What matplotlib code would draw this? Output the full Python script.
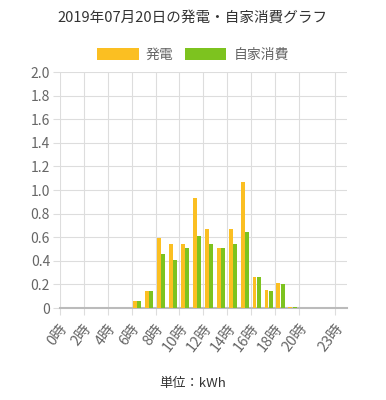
import matplotlib
matplotlib.use("Agg")
import matplotlib.pyplot as plt
from matplotlib.transforms import ScaledTranslation

plt.rcParams['font.family'] = ['Noto Sans CJK JP', 'DejaVu Sans']

hours = list(range(24))
hatsuden = [0, 0, 0, 0, 0, 0, 0.06, 0.14, 0.59, 0.54, 0.54, 0.93,
            0.67, 0.51, 0.67, 1.07, 0.26, 0.15, 0.21, 0.01, 0, 0, 0, 0]
jikashohi = [0, 0, 0, 0, 0, 0, 0.06, 0.14, 0.46, 0.41, 0.51, 0.61,
             0.54, 0.51, 0.54, 0.64, 0.26, 0.14, 0.20, 0.01, 0, 0, 0, 0]
tick_hours = [0, 2, 4, 6, 8, 10, 12, 14, 16, 18, 20, 23]
tick_labels = [f"{h}時" for h in tick_hours]
yticks = [0, 0.2, 0.4, 0.6, 0.8, 1.0, 1.2, 1.4, 1.6, 1.8, 2.0]

orange = '#FBBF22'
green = '#7DC31F'
grid = '#dddddd'

fig = plt.figure(figsize=(3.86, 4.0), dpi=100)
ax = fig.add_axes([0.155, 0.23, 0.744, 0.59])

w = 0.33
ax.bar([h + 0.27 for h in hours], hatsuden, width=w, color=orange, label='発電', zorder=3)
ax.bar([h + 0.65 for h in hours], jikashohi, width=w, color=green, label='自家消費', zorder=3)

ax.set_xlim(0, 24)
ax.set_ylim(0, 2.0)
ax.set_yticks(yticks)
ax.set_yticklabels([f"{v:.1f}" if v > 0 else "0" for v in yticks])

ax.grid(True, color=grid, linewidth=0.8, zorder=0)
for s in ['top', 'right', 'left']:
    ax.spines[s].set_visible(False)
ax.spines['bottom'].set_color('#bbbbbb')
ax.spines['bottom'].set_linewidth(1.5)
ax.tick_params(axis='y', colors='#666666', labelsize=10, length=5, color=grid, pad=2)
ax.tick_params(axis='x', colors='#666666', labelsize=10.5, length=5, color=grid, pad=2)

# x labels: rotated, nudged so the end of the text sits just right of the tick
ax.set_xticks(tick_hours)
ax.set_xticklabels(tick_labels, rotation=52, ha='right', va='center', rotation_mode='anchor')
shift = ScaledTranslation(5 / 100, -8 / 100, fig.dpi_scale_trans)
for lab in ax.get_xticklabels():
    lab.set_transform(lab.get_transform() + shift)

fig.text(0.5, 0.955, '2019年07月20日の発電・自家消費グラフ', ha='center', va='center',
         fontsize=10.5, color='#333333')
fig.legend(loc='center', bbox_to_anchor=(0.5, 0.864), ncol=2, frameon=False,
           fontsize=10, handlelength=3.0, handleheight=0.95, columnspacing=0.8,
           handletextpad=0.5, labelcolor='#666666')
fig.text(0.5, 0.042, '単位：kWh', ha='center', va='center', fontsize=9.5, color='#333333')

fig.savefig('out.png', dpi=100)
